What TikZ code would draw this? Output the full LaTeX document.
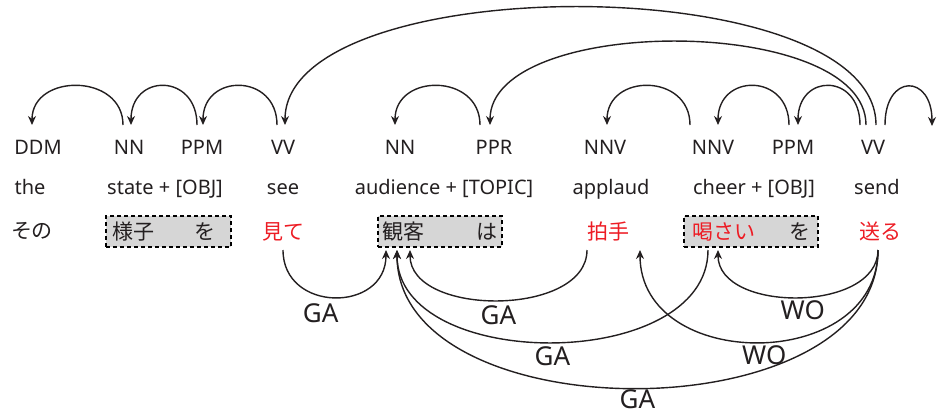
\documentclass[tikz,border=0pt]{standalone}
\usepackage{fontspec}
\setmainfont{Noto Sans}
\newfontfamily\jp{Noto Sans CJK JP}
\usepackage{tikz}
\usetikzlibrary{arrows.meta}
\usepackage{xcolor}
\definecolor{ink}{HTML}{231F20}
\definecolor{jred}{HTML}{ED1C24}
\definecolor{boxgray}{HTML}{D6D6D6}

\begin{document}
\begin{tikzpicture}[
x=1pt,y=-1pt,
tag/.style={anchor=base,inner sep=0pt,text height=15pt,text depth=0pt,outer ysep=14pt,text=ink,font=\fontsize{20}{24}\selectfont},
en/.style={anchor=base,inner sep=0pt,text=ink,font=\fontsize{20}{24}\selectfont},
jw/.style={inner sep=0pt,minimum height=31pt,outer ysep=3pt,text=jred,font=\jp\fontsize{21}{25}\selectfont},
jbox/.style={jw,draw=black,dashed,dash pattern=on 4pt off 3pt,line width=1.2pt,fill=boxgray,inner xsep=6pt,text=ink},
lbl/.style={inner sep=0pt,text height=19pt,text depth=0pt,anchor=north,text=ink,font=\fontsize{26}{30}\selectfont},
dep/.style={->,line width=1.4pt,draw=ink},
>={Stealth[length=9pt,width=8pt]}
]
\useasboundingbox (0,0) rectangle (940,415);

\node[tag] (ddm) at (38,154) {DDM};
\node[tag] (nna) at (129,154) {NN};
\node[tag] (ppma) at (202,154) {PPM};
\node[tag] (vva) at (283,154) {VV};
\node[tag] (nnb) at (400,154) {NN};
\node[tag] (ppr) at (494,154) {PPR};
\node[tag] (nnva) at (605,154) {NNV};
\node[tag] (nnvb) at (713,154) {NNV};
\node[tag] (ppmb) at (793,154) {PPM};
\node[tag] (vvb) at (873,154) {VV};
\coordinate (nxt) at (932,126);

\node[en] (the) at (30,194) {the};
\node[en] (state) at (165,194) {state + [OBJ]};
\node[en] (see) at (283,194) {see};
\node[en] (audience) at (444,194) {audience + [TOPIC]};
\node[en] (applaud) at (611,194) {applaud};
\node[en] (cheer) at (754,194) {cheer + [OBJ]};
\node[en] (send) at (877,194) {send};

\node[jw,text=ink] (sono) at (32,231.5) {その};
\node[jbox] (yousu) at (168.5,231.5) {\makebox[113pt][l]{様子\hfill を\hspace*{9pt}}};
\node[jw] (mite) at (283,231.5) {見て};
\node[jbox,inner xsep=4pt] (kankyaku) at (440,231.5) {\makebox[116pt][l]{観客\hfill は}};
\node[jw] (hakushu) at (608,231.5) {拍手};
\node[jbox,inner xsep=8pt] (kassai) at (751,231.5) {\makebox[118pt][l]{\color{jred}喝さい\hfill\color{ink}を}};
\node[jw] (okuru) at (880,231.5) {送る};

\draw[dep] ([xshift=-6pt]nna.north) .. controls +(0,-52) and +(0,-52) .. ([xshift=-6pt]ddm.north);
\draw[dep] ([xshift=-5pt]ppma.north) .. controls +(0,-52) and +(0,-52) .. ([xshift=2pt]nna.north);
\draw[dep] ([xshift=-6pt]vva.north) .. controls +(0,-52) and +(0,-52) .. ([xshift=1pt]ppma.north);
\draw[dep] ([xshift=3pt]vvb.north) .. controls +(0,-157) and +(0,-157) .. ([xshift=2pt]vva.north);
\draw[dep] ([xshift=-7pt]vvb.north) .. controls +(0,-111) and +(0,-111) .. ([xshift=-4pt]ppr.north);
\draw[dep] ([xshift=-14pt]ppr.north) .. controls +(0,-52) and +(0,-52) .. ([xshift=-5pt]nnb.north);
\draw[dep] ([xshift=-23pt]nnvb.north) .. controls +(0,-52) and +(0,-52) .. ([xshift=2pt]nnva.north);
\draw[dep] ([xshift=-4pt]ppmb.north) .. controls +(0,-52) and +(0,-52) .. ([xshift=5pt]nnvb.north);
\draw[dep] ([xshift=-13pt]vvb.north) .. controls +(0,-52) and +(0,-52) .. ([xshift=5pt]ppmb.north);
\draw[dep] ([xshift=12pt]vvb.north) .. controls +(0,-52) and +(0,-52) .. (nxt);

\draw[dep] (mite.south) .. controls +(0,63) and +(0,63) .. ([xshift=-54pt]kankyaku.south) node[lbl,pos=0.41,below=7pt] {GA};
\draw[dep] ([xshift=-21pt]hakushu.south) .. controls +(0,67) and +(0,67) .. ([xshift=-30pt]kankyaku.south) node[lbl,pos=0.5,below=5pt] {GA};
\draw[dep] ([xshift=-43pt]kassai.south) .. controls +(0,123) and +(0,123) .. ([xshift=-43pt]kankyaku.south) node[lbl,pos=0.5,below=4pt] {GA};
\draw[dep] ([xshift=-2pt]okuru.south) .. controls +(0,184) and +(0,184) .. ([xshift=-43pt]kankyaku.south) node[lbl,pos=0.5,below=1pt] {GA};
\draw[dep] ([xshift=-2pt]okuru.south) .. controls +(0,123) and +(0,123) .. ([xshift=32pt]hakushu.south) node[lbl,pos=0.485,below=3pt] {WO};
\draw[dep] ([xshift=-2pt]okuru.south) .. controls +(0,63) and +(0,63) .. ([xshift=-33pt]kassai.south) node[lbl,pos=0.48,below=3pt] {WO};

\end{tikzpicture}
\end{document}
